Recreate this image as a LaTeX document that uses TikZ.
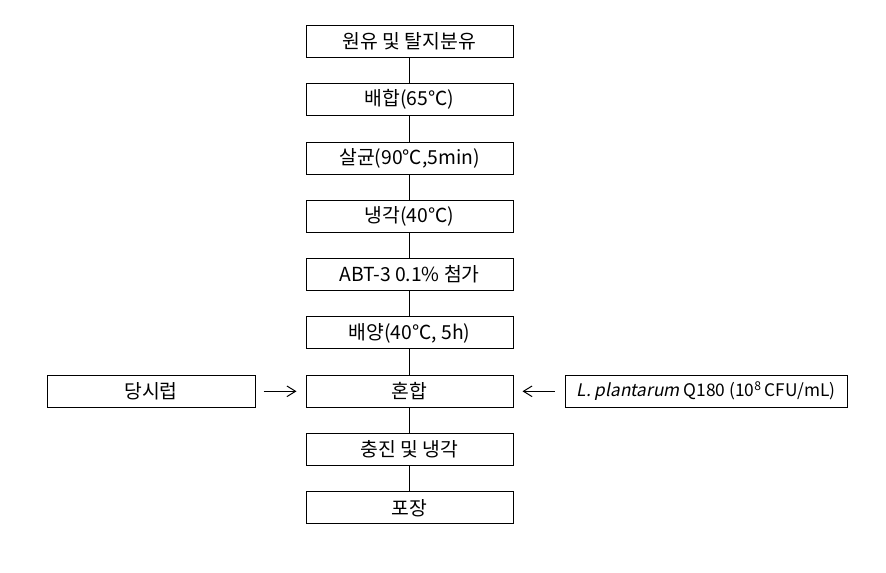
\documentclass[tikz,border=0pt]{standalone}
\usepackage{fontspec}
\setmainfont{Noto Sans CJK KR}[AutoFakeSlant=0.2]
\usetikzlibrary{arrows.meta}
\begin{document}
\begin{tikzpicture}[x=0.75pt,y=-0.75pt,
	stepbox/.style={draw,line width=0.75pt,minimum width=155.25pt,minimum height=24pt,inner sep=0pt,font=\fontsize{14.5}{16}\selectfont},
	sidebox/.style={stepbox,minimum width=156pt},
	link/.style={line width=0.75pt},
	feed/.style={line width=0.75pt,-{Straight Barb[length=6.5pt,width=8pt]}}]
	\useasboundingbox (0,0) rectangle (886,573);
	\def\xm{409.5};
	\def\dy{58.3};
	\node[stepbox] (s1) at (\xm,41.5) {원유 및 탈지분유};
	\node[stepbox] (s2) at (\xm,41.5+\dy) {배합(65℃)};
	\node[stepbox] (s3) at (\xm,41.5+2*\dy) {살균(90℃,5min)};
	\node[stepbox] (s4) at (\xm,41.5+3*\dy) {냉각(40℃)};
	\node[stepbox] (s5) at (\xm,41.5+4*\dy) {ABT-3 0.1\% 첨가};
	\node[stepbox] (s6) at (\xm,41.5+5*\dy) {배양(40℃, 5h)};
	\node[stepbox] (mix) at (\xm,41.5+6*\dy) {혼합};
	\node[stepbox] (s8) at (\xm,41.5+7*\dy) {충진 및 냉각};
	\node[stepbox] (s9) at (\xm,41.5+8*\dy) {포장};
	\node[sidebox] (syrup) at (151,41.5+6*\dy) {당시럽};
	\node[sidebox,minimum width=211.5pt,font=\fontsize{13}{15}\selectfont] (lab) at (706,41.5+6*\dy) {\textit{L. plantarum} Q180 (10\textsuperscript{8}\,CFU/mL)};
	\foreach \a/\b in {s1/s2,s2/s3,s3/s4,s4/s5,s5/s6,s6/mix,mix/s8,s8/s9}
		\draw[link] (\a) -- (\b);
	\draw[feed,shorten <=6pt,shorten >=6.75pt] (syrup) -- (mix);
	\draw[feed,shorten <=7.5pt,shorten >=6.75pt] (lab) -- (mix);
\end{tikzpicture}
\end{document}
